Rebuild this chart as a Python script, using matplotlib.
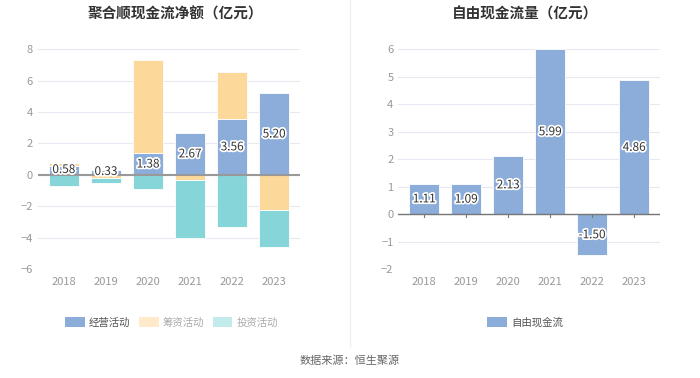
import matplotlib
matplotlib.use("Agg")
import matplotlib.pyplot as plt
import matplotlib.patheffects as pe
from matplotlib.patches import Patch
from matplotlib.lines import Line2D
import numpy as np

plt.rcParams["font.family"] = ["Noto Sans CJK SC", "DejaVu Sans"]

years = ["2018", "2019", "2020", "2021", "2022", "2023"]
# 聚合顺现金流净额 (亿元)
operating = [0.58, 0.33, 1.38, 2.67, 3.56, 5.20]
financing = [0.20, -0.23, 5.90, -0.32, 2.97, -2.23]
investing = [-0.68, -0.32, -0.89, -3.71, -3.35, -2.33]
# 自由现金流 (亿元)
free_cf = [1.11, 1.09, 2.13, 5.99, -1.50, 4.86]

c_op = "#8CACDA"
c_fin = "#FDD89B"
c_inv = "#86D5D8"
grid_c = "#E6E9F2"
tick_c = "#999999"

fig = plt.figure(figsize=(7, 3.78), dpi=100)
ax1 = fig.add_axes([0.054, 0.288, 0.375, 0.582])
ax2 = fig.add_axes([0.569, 0.288, 0.374, 0.582])

x = np.arange(len(years))
w = 0.71
outline = [pe.withStroke(linewidth=2.5, foreground="white")]

# 左图: 正负分别堆叠
pos_base = np.zeros(len(years))
neg_base = np.zeros(len(years))
for vals, col in [(operating, c_op), (financing, c_fin), (investing, c_inv)]:
    vals = np.array(vals)
    bottoms = np.where(vals >= 0, pos_base, neg_base)
    ax1.bar(x, vals, w, bottom=bottoms, color=col, edgecolor="white", linewidth=0.6, zorder=3)
    pos_base = pos_base + np.where(vals >= 0, vals, 0)
    neg_base = neg_base + np.where(vals < 0, vals, 0)

for i, v in enumerate(operating):
    ax1.text(x[i], v / 2 if v > 1 else v / 2 + 0.05, f"{v:.2f}", ha="center", va="center",
             fontsize=8.5, color="#333333", path_effects=outline, zorder=5)

ax1.axhline(0, color="#999999", linewidth=1.5, zorder=4)
ax1.set_ylim(-6, 8)
ax1.set_yticks(range(-6, 9, 2))
ax1.set_xlim(-0.62, 5.62)

# 右图
ax2.bar(x, free_cf, w, color=c_op, edgecolor="white", linewidth=0.6, zorder=3)
for i, v in enumerate(free_cf):
    ax2.text(x[i], v / 2, f"{v:.2f}", ha="center", va="center",
             fontsize=8.5, color="#333333", path_effects=outline, zorder=5)
ax2.axhline(0, color="#777777", linewidth=1, zorder=4)
for xi in x:
    ax2.plot([xi, xi], [0, -0.1], color="#777777", linewidth=0.8, zorder=4, clip_on=False)
ax2.set_ylim(-2, 6)
ax2.set_yticks(range(-2, 7))
ax2.set_xlim(-0.62, 5.62)

for ax in (ax1, ax2):
    ax.set_xticks(x)
    ax.set_xticklabels(years)
    ax.tick_params(axis="both", length=0, colors=tick_c, labelsize=8)
    ax.tick_params(axis="x", pad=6)
    ax.grid(axis="y", color=grid_c, linewidth=0.8, zorder=0)
    for s in ax.spines.values():
        s.set_visible(False)

fig.text(0.25, 0.965, "聚合顺现金流净额（亿元）", ha="center", va="center",
         fontsize=10.5, fontweight="bold", color="#333333")
fig.text(0.75, 0.965, "自由现金流量（亿元）", ha="center", va="center",
         fontsize=10.5, fontweight="bold", color="#333333")

# 分隔线
fig.add_artist(Line2D([0.5, 0.5], [0.085, 1.0], color="#F0F0F0", linewidth=1))

h1 = [Patch(facecolor=c_op), Patch(facecolor="#FFEBCC"), Patch(facecolor="#C3EBEC")]
leg1 = fig.legend(h1, ["经营活动", "筹资活动", "投资活动"], loc="center", bbox_to_anchor=(0.245, 0.147),
                  ncol=3, frameon=False, fontsize=7.5, handlelength=1.9, handleheight=1.1,
                  columnspacing=0.8, handletextpad=0.4)
for t, c in zip(leg1.get_texts(), ["#555555", "#AAAAAA", "#AAAAAA"]):
    t.set_color(c)
leg2 = fig.legend([Patch(facecolor=c_op)], ["自由现金流"], loc="center", bbox_to_anchor=(0.75, 0.147),
                  frameon=False, fontsize=7.5, handlelength=1.9, handleheight=1.1, handletextpad=0.4)
leg2.get_texts()[0].set_color("#555555")

fig.text(0.5, 0.045, "数据来源：恒生聚源", ha="center", va="center", fontsize=8, color="#666666")

fig.savefig("out.png", dpi=100)
